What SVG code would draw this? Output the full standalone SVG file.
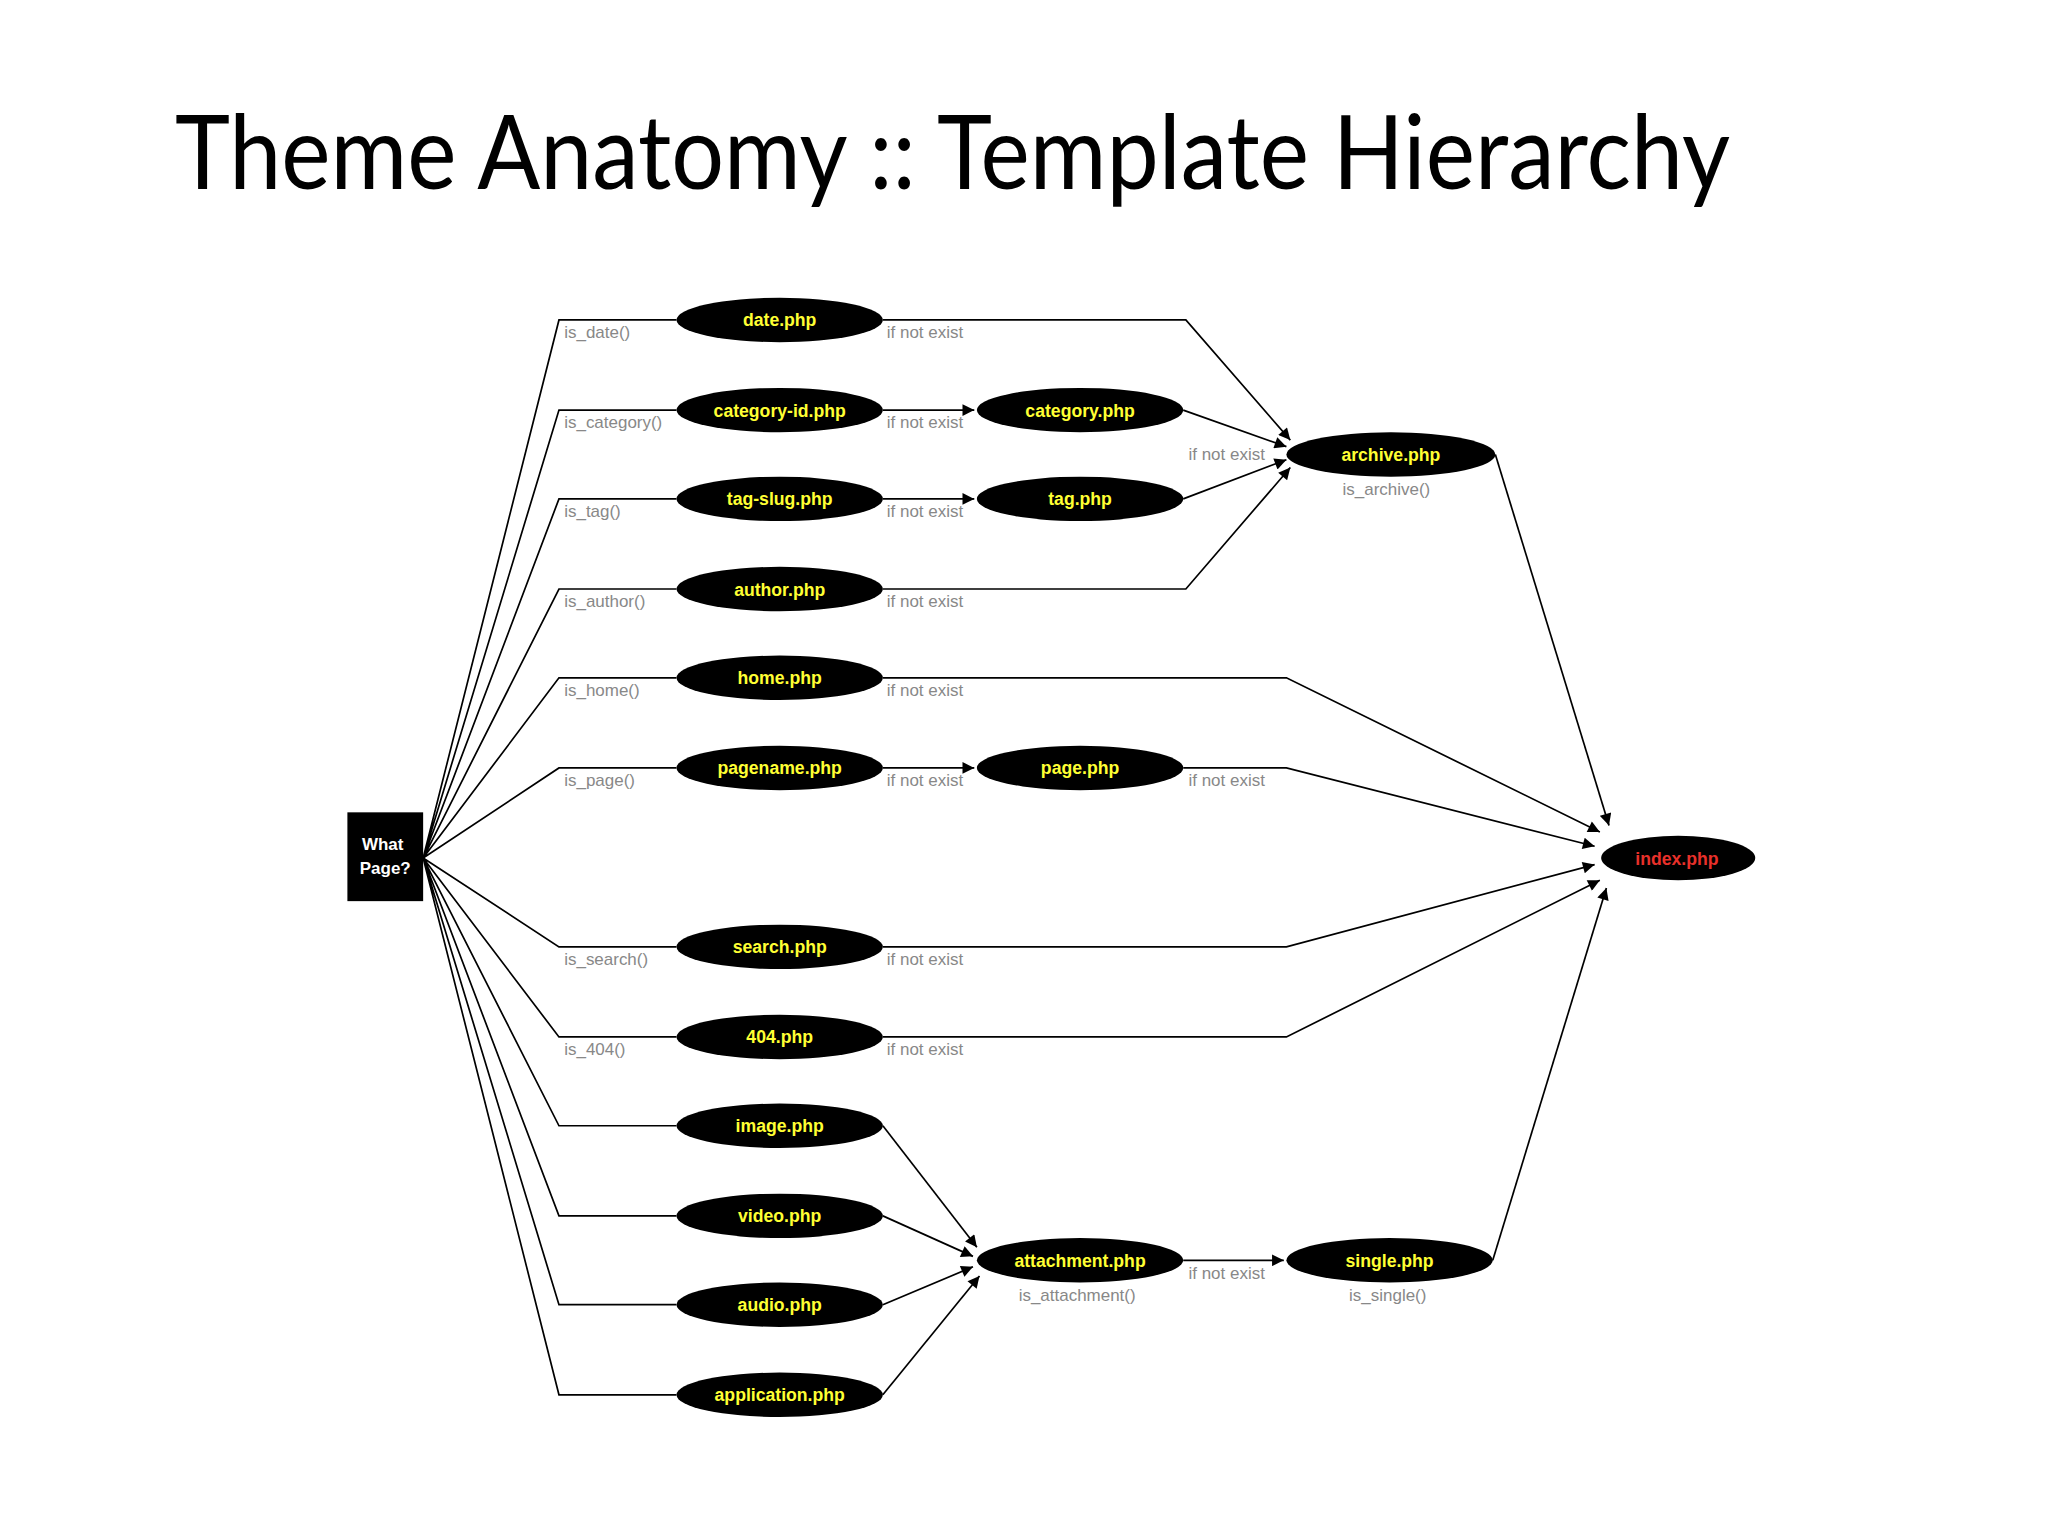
<svg xmlns="http://www.w3.org/2000/svg" width="2048" height="1535" viewBox="0 0 2048 1535">
<style>
.e{fill:#000}
.t{font-family:"Liberation Sans",Arial,sans-serif;font-weight:bold;font-size:13.5px;fill:#ffff33;text-anchor:middle}
.l{font-family:"Liberation Sans",Arial,sans-serif;font-size:13px;fill:#888}
.c{fill:none;stroke:#000;stroke-width:1.3}
.a{marker-end:url(#ah)}
</style>
<defs>
<marker id="ah" viewBox="0 0 10 10" refX="10" refY="5" markerWidth="11" markerHeight="9" markerUnits="userSpaceOnUse" orient="auto"><path d="M0,0L10,5L0,10z" fill="#000"/></marker>
</defs>
<rect width="2048" height="1535" fill="#fff"/>
<text x="175" y="189" font-family="Lato,'Open Sans',sans-serif" font-size="103" fill="#000" textLength="1555" lengthAdjust="spacingAndGlyphs">Theme Anatomy :: Template Hierarchy</text>
<g transform="scale(1.306)">
<g id="connectors">
<path class="c" d="M324,657L428,245H518M324,657L428,314H518M324,657L428,382H518M324,657L428,451H518M324,657L428,519H518M324,657L428,588H518M324,657L428,725H518M324,657L428,794H518M324,657L428,862H518M324,657L428,931H518M324,657L428,999H518M324,657L428,1068H518"/>
<path class="c a" d="M676,314H746"/>
<path class="c a" d="M676,382H746"/>
<path class="c a" d="M676,588H746"/>
<path class="c a" d="M676,245H908L988,337"/>
<path class="c a" d="M906,314L985,342"/>
<path class="c a" d="M906,382L985,352"/>
<path class="c a" d="M676,451H908L988,358"/>
<path class="c a" d="M1145,348L1232,632"/>
<path class="c a" d="M676,519H985L1225,637"/>
<path class="c a" d="M906,588H985L1221,648"/>
<path class="c a" d="M676,725H985L1221,662"/>
<path class="c a" d="M676,794H985L1225,674"/>
<path class="c a" d="M1143,965L1230,680"/>
<path class="c a" d="M676,862L748,955"/>
<path class="c a" d="M676,931L745,962"/>
<path class="c a" d="M676,999L745,970"/>
<path class="c a" d="M676,1068L750,977"/>
<path class="c a" d="M906,965H983"/>
</g>
<g id="labels">
<text class="l" x="432" y="259">is_date()</text>
<text class="l" x="432" y="328">is_category()</text>
<text class="l" x="432" y="396">is_tag()</text>
<text class="l" x="432" y="465">is_author()</text>
<text class="l" x="432" y="533">is_home()</text>
<text class="l" x="432" y="602">is_page()</text>
<text class="l" x="432" y="739">is_search()</text>
<text class="l" x="432" y="808">is_404()</text>
<text class="l" x="679" y="259">if not exist</text>
<text class="l" x="679" y="328">if not exist</text>
<text class="l" x="679" y="396">if not exist</text>
<text class="l" x="679" y="465">if not exist</text>
<text class="l" x="679" y="533">if not exist</text>
<text class="l" x="679" y="602">if not exist</text>
<text class="l" x="679" y="739">if not exist</text>
<text class="l" x="679" y="808">if not exist</text>
<text class="l" x="910" y="352">if not exist</text>
<text class="l" x="910" y="602">if not exist</text>
<text class="l" x="910" y="979">if not exist</text>
<text class="l" x="1028" y="379">is_archive()</text>
<text class="l" x="780" y="996">is_attachment()</text>
<text class="l" x="1033" y="996">is_single()</text>
</g>
<g id="what"><rect x="266" y="622" width="58" height="68" fill="#000"/><text x="293" y="651" font-family="Liberation Sans,Arial,sans-serif" font-weight="bold" font-size="13" fill="#fff" text-anchor="middle">What</text><text x="295" y="669" font-family="Liberation Sans,Arial,sans-serif" font-weight="bold" font-size="13" fill="#fff" text-anchor="middle">Page?</text></g>
<g id="date"><ellipse class="e" cx="597" cy="245" rx="79" ry="17"/><text class="t" x="597" y="250">date.php</text></g>
<g id="catid"><ellipse class="e" cx="597" cy="314" rx="79" ry="17"/><text class="t" x="597" y="319">category-id.php</text></g>
<g id="tagslug"><ellipse class="e" cx="597" cy="382" rx="79" ry="17"/><text class="t" x="597" y="387">tag-slug.php</text></g>
<g id="author"><ellipse class="e" cx="597" cy="451" rx="79" ry="17"/><text class="t" x="597" y="456">author.php</text></g>
<g id="home"><ellipse class="e" cx="597" cy="519" rx="79" ry="17"/><text class="t" x="597" y="524">home.php</text></g>
<g id="pagename"><ellipse class="e" cx="597" cy="588" rx="79" ry="17"/><text class="t" x="597" y="593">pagename.php</text></g>
<g id="search"><ellipse class="e" cx="597" cy="725" rx="79" ry="17"/><text class="t" x="597" y="730">search.php</text></g>
<g id="p404"><ellipse class="e" cx="597" cy="794" rx="79" ry="17"/><text class="t" x="597" y="799">404.php</text></g>
<g id="image"><ellipse class="e" cx="597" cy="862" rx="79" ry="17"/><text class="t" x="597" y="867">image.php</text></g>
<g id="video"><ellipse class="e" cx="597" cy="931" rx="79" ry="17"/><text class="t" x="597" y="936">video.php</text></g>
<g id="audio"><ellipse class="e" cx="597" cy="999" rx="79" ry="17"/><text class="t" x="597" y="1004">audio.php</text></g>
<g id="application"><ellipse class="e" cx="597" cy="1068" rx="79" ry="17"/><text class="t" x="597" y="1073">application.php</text></g>
<g id="category"><ellipse class="e" cx="827" cy="314" rx="79" ry="17"/><text class="t" x="827" y="319">category.php</text></g>
<g id="tag"><ellipse class="e" cx="827" cy="382" rx="79" ry="17"/><text class="t" x="827" y="387">tag.php</text></g>
<g id="page"><ellipse class="e" cx="827" cy="588" rx="79" ry="17"/><text class="t" x="827" y="593">page.php</text></g>
<g id="attachment"><ellipse class="e" cx="827" cy="965" rx="79" ry="17"/><text class="t" x="827" y="970">attachment.php</text></g>
<g id="archive"><ellipse class="e" cx="1065" cy="348" rx="80" ry="17"/><text class="t" x="1065" y="353">archive.php</text></g>
<g id="single"><ellipse class="e" cx="1064" cy="965" rx="79" ry="17"/><text class="t" x="1064" y="970">single.php</text></g>
<g id="index"><ellipse class="e" cx="1285" cy="657" rx="59" ry="17"/><text class="t" x="1284" y="662" style="fill:#e8302a">index.php</text></g>
</g>
</svg>
